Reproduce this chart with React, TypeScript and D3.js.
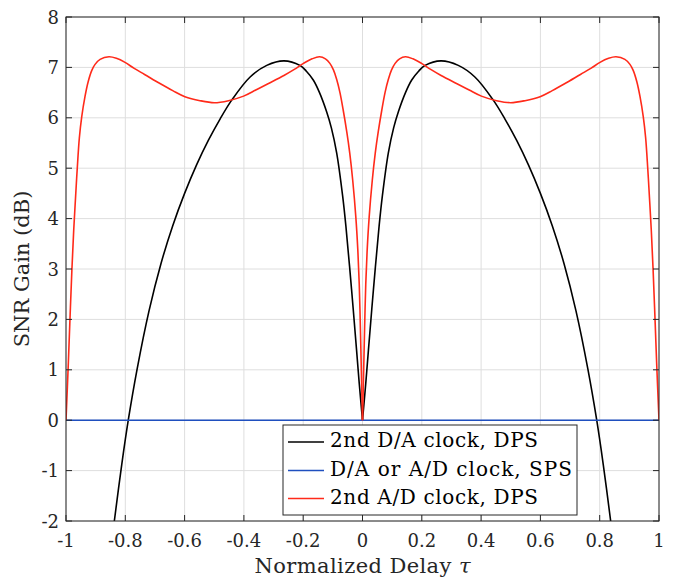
import React from 'react';
import * as d3 from 'd3';

const xTicks = [-1, -0.8, -0.6, -0.4, -0.2, 0, 0.2, 0.4, 0.6, 0.8, 1];
const xTickLabels = ['-1', '-0.8', '-0.6', '-0.4', '-0.2', '0', '0.2', '0.4', '0.6', '0.8', '1'];
const yTicks = [-2, -1, 0, 1, 2, 3, 4, 5, 6, 7, 8];
const yTickLabels = ['-2', '-1', '0', '1', '2', '3', '4', '5', '6', '7', '8'];

const blackTau = [-0.837, -0.812, -0.79, -0.76, -0.72, -0.68, -0.64, -0.6, -0.56, -0.52, -0.48, -0.44, -0.379, -0.323, -0.265, -0.211, -0.19, -0.166, -0.145, -0.121, -0.105, -0.087, -0.067, -0.056, -0.037, -0.02, -0.011, 0,
  0.011, 0.02, 0.037, 0.056, 0.067, 0.087, 0.105, 0.121, 0.145, 0.166, 0.19, 0.211, 0.265, 0.323, 0.379, 0.44, 0.48, 0.52, 0.56, 0.6, 0.64, 0.68, 0.72, 0.76, 0.79, 0.812, 0.837];
const blackGain = [-2.0, -0.88, 0, 1.02, 2.17, 3.1, 3.86, 4.5, 5.06, 5.55, 5.98, 6.36, 6.81, 7.04, 7.13, 7.04, 6.93, 6.75, 6.5, 6.12, 5.8, 5.3, 4.45, 3.85, 2.6, 1.39, 0.73, 0,
  0.73, 1.39, 2.6, 3.85, 4.45, 5.3, 5.8, 6.12, 6.5, 6.75, 6.93, 7.04, 7.13, 7.04, 6.81, 6.36, 5.98, 5.55, 5.06, 4.5, 3.86, 3.1, 2.17, 1.02, 0, -0.88, -2.0];

const blueTau = [-1, 1];
const blueGain = [0, 0];

const redTau = [-1, -0.992, -0.986, -0.98, -0.974, -0.968, -0.962, -0.955, -0.947, -0.936, -0.925, -0.913, -0.902, -0.885, -0.855, -0.83, -0.801, -0.77, -0.735, -0.683, -0.64, -0.599, -0.548, -0.5,
  -0.452, -0.401, -0.36, -0.317, -0.265, -0.23, -0.199, -0.17, -0.145, -0.125, -0.11, -0.098, -0.087, -0.076, -0.065, -0.053, -0.043, -0.033, -0.0225, -0.016, -0.011, -0.007, -0.004, 0,
  0.004, 0.007, 0.011, 0.016, 0.0225, 0.033, 0.043, 0.053, 0.065, 0.076, 0.087, 0.098, 0.11, 0.125, 0.145, 0.17, 0.199, 0.23, 0.265, 0.317, 0.36, 0.401, 0.452, 0.5,
  0.548, 0.599, 0.64, 0.683, 0.735, 0.77, 0.801, 0.83, 0.855, 0.885, 0.902, 0.913, 0.925, 0.936, 0.947, 0.955, 0.962, 0.968, 0.974, 0.98, 0.986, 0.992, 1];
const redGain = [0, 1.15, 2.1, 3.0, 3.77, 4.4, 5.0, 5.6, 6.02, 6.42, 6.72, 6.94, 7.06, 7.16, 7.21, 7.18, 7.1, 6.98, 6.86, 6.68, 6.54, 6.42, 6.34, 6.3,
  6.34, 6.43, 6.55, 6.68, 6.84, 6.96, 7.08, 7.17, 7.21, 7.17, 7.08, 6.95, 6.76, 6.5, 6.15, 5.72, 5.3, 4.76, 4.03, 3.4, 2.7, 1.8, 1.0, 0,
  1.0, 1.8, 2.7, 3.4, 4.03, 4.76, 5.3, 5.72, 6.15, 6.5, 6.76, 6.95, 7.08, 7.17, 7.21, 7.17, 7.08, 6.96, 6.84, 6.68, 6.55, 6.43, 6.34, 6.3,
  6.34, 6.42, 6.54, 6.68, 6.86, 6.98, 7.1, 7.18, 7.21, 7.16, 7.06, 6.94, 6.72, 6.42, 6.02, 5.6, 5.0, 4.4, 3.77, 3.0, 2.1, 1.15, 0];

const legendLabels = ['2nd D/A clock, DPS', 'D/A or A/D clock, SPS', '2nd A/D clock, DPS'];
const seriesColors = ['#000000', '#1f4fbf', '#ff2a1a'];

const FONT = '"DejaVu Serif", serif';

function segments(tau: number[], gain: number[]): [number, number][][] {
  // split at interior cusp points (tau === 0)
  const segs: [number, number][][] = [];
  let cur: [number, number][] = [];
  tau.forEach((t, i) => {
    cur.push([t, gain[i]]);
    if (t === 0 && i > 0 && i < tau.length - 1) {
      segs.push(cur);
      cur = [[t, gain[i]]];
    }
  });
  segs.push(cur);
  return segs;
}

export default function App() {
  const W = 675, H = 580;
  const L = 66, R = 659, T = 17, B = 521;
  const x = d3.scaleLinear().domain([-1, 1]).range([L, R]);
  const y = d3.scaleLinear().domain([-2, 8]).range([B, T]);
  const line = d3.line<[number, number]>().x(d => x(d[0])).y(d => y(d[1])).curve(d3.curveCatmullRom.alpha(0.5));
  const axisColor = '#262626';
  const gridColor = '#dedede';
  const tickLen = 6;

  const series = [
    { tau: blackTau, gain: blackGain },
    { tau: blueTau, gain: blueGain },
    { tau: redTau, gain: redGain },
  ];

  const legX = 283, legY = 425, legW = 294, legH = 90;
  const rowY = [442, 470.5, 498.5];
  const rowLen = [208, 242, 208];

  return (
    <svg width={W} height={H} style={{ position: 'absolute', left: 0, top: 0, background: '#fff' }} fontFamily={FONT}>
      <rect x={0} y={0} width={W} height={H} fill="#fff" />
      <defs>
        <clipPath id="plotClip">
          <rect x={L} y={T} width={R - L} height={B - T} />
        </clipPath>
      </defs>
      {xTicks.map((t, i) => (
        <line key={'gx' + i} x1={x(t)} x2={x(t)} y1={T} y2={B} stroke={gridColor} strokeWidth={1} />
      ))}
      {yTicks.map((t, i) => (
        <line key={'gy' + i} x1={L} x2={R} y1={y(t)} y2={y(t)} stroke={gridColor} strokeWidth={1} />
      ))}
      <g clipPath="url(#plotClip)">
        {series.map((s, si) =>
          segments(s.tau, s.gain).map((seg, k) => (
            <path key={si + '-' + k} d={line(seg) || ''} fill="none" stroke={seriesColors[si]} strokeWidth={1.6} strokeLinejoin="round" />
          ))
        )}
      </g>
      <rect x={L} y={T} width={R - L} height={B - T} fill="none" stroke={axisColor} strokeWidth={1} />
      {xTicks.map((t, i) => (
        <g key={'tx' + i}>
          <line x1={x(t)} x2={x(t)} y1={B} y2={B - tickLen} stroke={axisColor} />
          <line x1={x(t)} x2={x(t)} y1={T} y2={T + tickLen} stroke={axisColor} />
          <text x={x(t)} y={547} textAnchor="middle" fontSize={18} fill="#262626">{xTickLabels[i]}</text>
        </g>
      ))}
      {yTicks.map((t, i) => (
        <g key={'ty' + i}>
          <line x1={L} x2={L + tickLen} y1={y(t)} y2={y(t)} stroke={axisColor} />
          <line x1={R} x2={R - tickLen} y1={y(t)} y2={y(t)} stroke={axisColor} />
          <text x={59} y={y(t) + 6.5} textAnchor="end" fontSize={18} fill="#262626">{yTickLabels[i]}</text>
        </g>
      ))}
      <text x={362.5} y={573} textAnchor="middle" fontSize={21} fill="#262626" textLength={216} lengthAdjust="spacing">
        Normalized Delay <tspan fontStyle="italic">τ</tspan>
      </text>
      <text transform={`translate(29,${(T + B) / 2}) rotate(-90)`} textAnchor="middle" fontSize={21} fill="#262626">SNR Gain (dB)</text>
      <rect x={legX} y={legY} width={legW} height={legH} fill="#fff" stroke={axisColor} strokeWidth={1} />
      {legendLabels.map((lab, i) => (
        <g key={'lg' + i}>
          <line x1={288} x2={324} y1={rowY[i]} y2={rowY[i]} stroke={seriesColors[i]} strokeWidth={1.6} />
          <text x={330} y={rowY[i] + 5} fontSize={20} fill="#000" textLength={rowLen[i]} lengthAdjust="spacing">{lab}</text>
        </g>
      ))}
    </svg>
  );
}
